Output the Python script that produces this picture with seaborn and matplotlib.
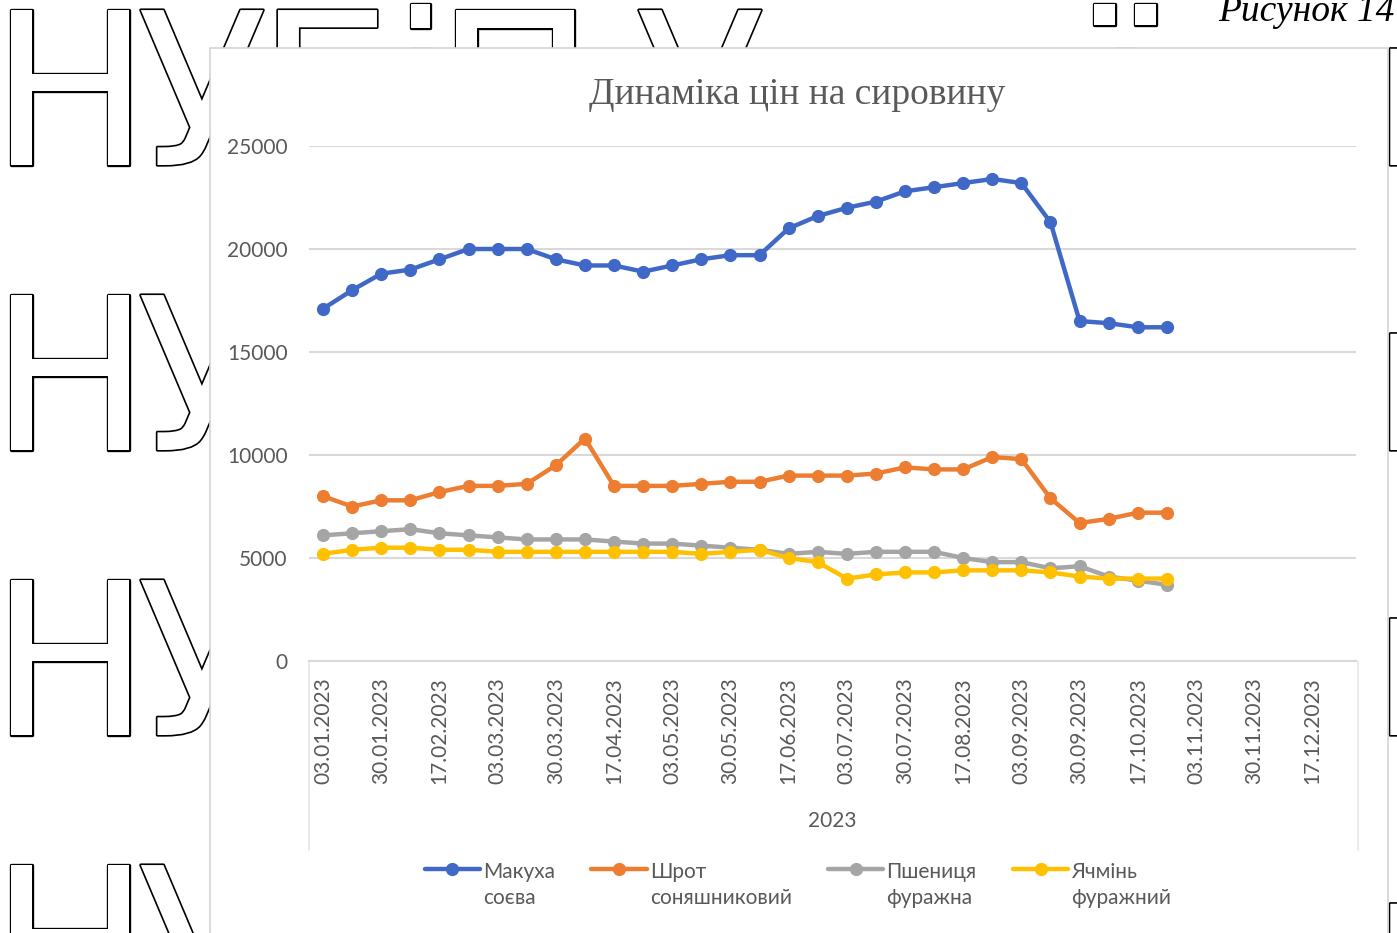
import numpy as np
import pandas as pd
import matplotlib
matplotlib.use("Agg")
import matplotlib.pyplot as plt
import matplotlib.patheffects as pe
from matplotlib.patches import Rectangle
from matplotlib.lines import Line2D
import seaborn as sns

# Raw-material prices, UAH per tonne, fortnightly observations in 2023
date_labels = ["03.01.2023", "30.01.2023", "17.02.2023", "03.03.2023", "30.03.2023",
               "17.04.2023", "03.05.2023", "30.05.2023", "17.06.2023", "03.07.2023",
               "30.07.2023", "17.08.2023", "03.09.2023", "30.09.2023", "17.10.2023",
               "03.11.2023", "30.11.2023", "17.12.2023"]
n_periods = 36  # category slots on the axis (every second one is labelled)

series_names = ["Макуха\nсоєва", "Шрот\nсоняшниковий", "Пшениця\nфуражна", "Ячмінь\nфуражний"]

soy_cake = [17100, 18000, 18800, 19000, 19500, 20000, 20000, 20000, 19500, 19200,
            19200, 18900, 19200, 19500, 19700, 19700, 21000, 21600, 22000, 22300,
            22800, 23000, 23200, 23400, 23200, 21300, 16500, 16400, 16200, 16200]
sunflower_meal = [8000, 7500, 7800, 7800, 8200, 8500, 8500, 8600, 9500, 10800,
                  8500, 8500, 8500, 8600, 8700, 8700, 9000, 9000, 9000, 9100,
                  9400, 9300, 9300, 9900, 9800, 7900, 6700, 6900, 7200, 7200]
feed_wheat = [6100, 6200, 6300, 6400, 6200, 6100, 6000, 5900, 5900, 5900,
              5800, 5700, 5700, 5600, 5500, 5400, 5200, 5300, 5200, 5300,
              5300, 5300, 5000, 4800, 4800, 4500, 4600, 4100, 3900, 3700]
feed_barley = [5200, 5400, 5500, 5500, 5400, 5400, 5300, 5300, 5300, 5300,
               5300, 5300, 5300, 5200, 5300, 5400, 5000, 4800, 4000, 4200,
               4300, 4300, 4400, 4400, 4400, 4300, 4100, 4000, 4000, 4000]

y_ticks = [0, 5000, 10000, 15000, 20000, 25000]
series_colors = ["#3F68C7", "#ED7D31", "#A5A5A5", "#FFC000"]

all_series = [soy_cake, sunflower_meal, feed_wheat, feed_barley]
df = pd.DataFrame({
    "period": np.concatenate([np.arange(len(s)) for s in all_series]),
    "price": np.concatenate(all_series),
    "series": np.concatenate([[n] * len(s) for n, s in zip(series_names, all_series)]),
})

sns.set_theme(style="white")
plt.rcParams["font.family"] = ["Lato", "DejaVu Sans"]

W, H = 1397, 933
fig = plt.figure(figsize=(W / 100, H / 100), dpi=100)
fig.patch.set_facecolor("white")


def fx(px):
    return px / W


def fy(py):
    return 1 - py / H


# Outlined "НУБіП України" background lettering (only the parts outside the chart area)
top_row = [("Н", 70), ("У", 202), ("Б", 330), ("і", 420), ("П", 515), ("У", 700),
           ("ї", 1125), ("и", 1440)]
other_rows = [("Н", 70), ("У", 202), ("и", 1440)]
for base, glyphs in ((165, top_row), (450, other_rows), (735, other_rows), (1020, other_rows)):
    for ch, cx in glyphs:
        fig.text(fx(cx), fy(base), ch, fontsize=153, family="DejaVu Sans",
                 color="white", ha="center", va="baseline", zorder=-3,
                 path_effects=[pe.withStroke(linewidth=2.4, foreground="black")])

fig.text(fx(1218), fy(21), "Рисунок 14", fontsize=27, family="Liberation Serif",
         fontstyle="italic", color="black", ha="left", va="baseline", zorder=-3)

# Chart area
fig.add_artist(Rectangle((fx(210), -0.02), fx(1388) - fx(210), fy(48) + 0.02,
                         transform=fig.transFigure, facecolor="white",
                         edgecolor="#d4d4d4", linewidth=1.2, zorder=-2))

ax = fig.add_axes([fx(308.5), fy(661), fx(1356) - fx(308.5), fy(146) - fy(661)])
ax.set_facecolor("none")

sns.lineplot(data=df, x="period", y="price", hue="series", hue_order=series_names,
             palette=series_colors, marker="o", markersize=9.5, markeredgewidth=0,
             linewidth=3.2, sort=False, legend=False, ax=ax)

ax.set_xlim(-0.5, n_periods - 0.5)
ax.set_ylim(0, 25000)
ax.set_yticks(y_ticks)
ax.set_yticklabels([str(v) for v in y_ticks])
ax.set_xticks(range(0, n_periods, 2))
ax.set_xticklabels(date_labels, rotation=90)
ax.yaxis.grid(True, color="#d9d9d9", linewidth=1.5)
ax.xaxis.grid(False)
for side in ("top", "right", "left"):
    ax.spines[side].set_visible(False)
ax.spines["bottom"].set_color("#d9d9d9")
ax.spines["bottom"].set_linewidth(1.5)
ax.tick_params(axis="both", length=0, labelsize=15, labelcolor="#595959")
ax.tick_params(axis="y", pad=15)
ax.tick_params(axis="x", pad=12)
ax.set_ylabel("")
ax.set_xlabel("2023", fontsize=15, color="#595959")
ax.xaxis.set_label_coords(0.5, -0.291)

# faint plot-area sides below the category axis
for xp in (308.5, 1358):
    fig.add_artist(Line2D([fx(xp), fx(xp)], [fy(661), fy(850)], transform=fig.transFigure,
                          color="#e6e6e6", linewidth=1.2, zorder=-1))

fig.text(fx(797), fy(95), "Динаміка цін на сировину", fontsize=27,
         family="Liberation Serif", color="#595959", ha="center", va="center")

handles = ax.get_lines()[:4]
leg = ax.legend(handles, series_names, loc="center",
                bbox_to_anchor=(fx(798), fy(885)), bbox_transform=fig.transFigure,
                ncol=4, frameon=False, fontsize=15, handlelength=2.65,
                handletextpad=0.15, columnspacing=1.75, labelcolor="#595959")
for t in leg.get_texts():
    t.set_linespacing(1.4)
for col in leg._legend_handle_box.get_children():
    for row in col.get_children():
        row.align = "top"

fig.savefig("out.png", dpi=100, facecolor="white")
